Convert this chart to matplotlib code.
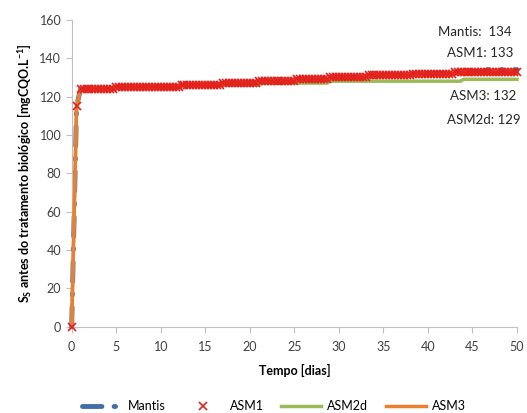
import numpy as np
import matplotlib
matplotlib.use("Agg")
from matplotlib import pyplot as plt

plt.rcParams['font.family'] = ['Lato', 'DejaVu Sans']

# time grid (days) and start-up ramp
ramp_t = [0.0, 0.55]
ramp_y = [0.0, 115.0]
plateau_t = np.arange(1.0, 50.01, 1 / 3)

# step changes on the plateau: day where the level changes, and the level after it
asm1_break = [0.0, 4.8, 12.3, 16.8, 20.9, 25.0, 28.9, 33.3, 38.3, 42.7]
asm1_level = [124, 125, 126, 127, 128, 129, 130, 131, 132, 133]

mantis_break = [0.0, 4.8, 12.3, 16.8, 20.9, 25.0, 28.9, 33.3, 38.3, 42.7, 46.5]
mantis_level = [124, 125, 126, 127, 128, 129, 130, 131, 132, 133, 134]

asm3_break = [0.0, 4.8, 12.3, 16.8, 20.9, 25.0, 28.9, 33.3, 38.3]
asm3_level = [124, 125, 126, 127, 128, 129, 130, 131, 132]

asm2d_break = [0.0, 4.8, 12.3, 21.0, 28.9, 43.8]
asm2d_level = [124, 125, 126, 127, 128, 129]

final_labels = ["Mantis:  134", "ASM1: 133", "ASM3: 132", "ASM2d: 129"]


def build(breaks, levels):
    idx = np.searchsorted(breaks, plateau_t, side='right') - 1
    y = np.array(levels, dtype=float)[idx]
    return np.concatenate([ramp_t, plateau_t]), np.concatenate([ramp_y, y])


fig = plt.figure(figsize=(5.27, 4.13), dpi=100)
ax = fig.add_axes([0.136, 0.209, 0.845, 0.743])

t, y = build(mantis_break, mantis_level)
ax.plot(t, y, color='#3F6FA8', lw=3.5, linestyle=(0, (4, 2.5, 0.3, 2.5)),
        dash_capstyle='round', label='Mantis', zorder=2, clip_on=False)

t, y = build(asm2d_break, asm2d_level)
ax.plot(t, y, color='#9BBB59', lw=2.5, label='ASM2d', zorder=3, clip_on=False)

t, y = build(asm3_break, asm3_level)
ax.plot(t, y, color='#ED7D31', lw=2.5, label='ASM3', zorder=4, clip_on=False)

t, y = build(asm1_break, asm1_level)
ax.plot(t, y, linestyle='none', marker='x', color='#E3201B', ms=6, mew=1.2,
        label='ASM1', zorder=5, clip_on=False)

ax.set_xlim(0, 50)
ax.set_ylim(0, 160)
ax.set_xticks(np.arange(0, 51, 5))
ax.set_yticks(np.arange(0, 161, 20))
for s in ['top', 'right']:
    ax.spines[s].set_visible(False)
for s in ['left', 'bottom']:
    ax.spines[s].set_color('#BFBFBF')
ax.tick_params(colors='#BFBFBF', labelcolor='#404040', labelsize=9, length=4)
ax.tick_params(axis='x', pad=6)

ax.set_xlabel("Tempo [dias]", fontsize=9, fontweight='bold', labelpad=8)
ax.set_ylabel("S$_\\mathregular{S}$ antes do tratamento biológico [mgCQO.L$^\\mathregular{-1}$]",
              fontsize=9, fontweight='bold', labelpad=4)

# final value annotations
label_pos = [(438, 32), (447, 53), (450, 96), (447, 120)]
for txt, (px, py) in zip(final_labels, label_pos):
    fig.text(px / 527, 1 - py / 413, txt, fontsize=9.5, color='#262626',
             ha='left', va='center')

handles, labels = ax.get_legend_handles_labels()
order = [0, 3, 1, 2]
fig.legend([handles[i] for i in order], [labels[i] for i in order],
           loc='lower center', bbox_to_anchor=(0.52, -0.025), ncol=4, frameon=False,
           fontsize=9, handlelength=3.2, handletextpad=0.5, columnspacing=1.4)

fig.savefig("out.png", dpi=100)
